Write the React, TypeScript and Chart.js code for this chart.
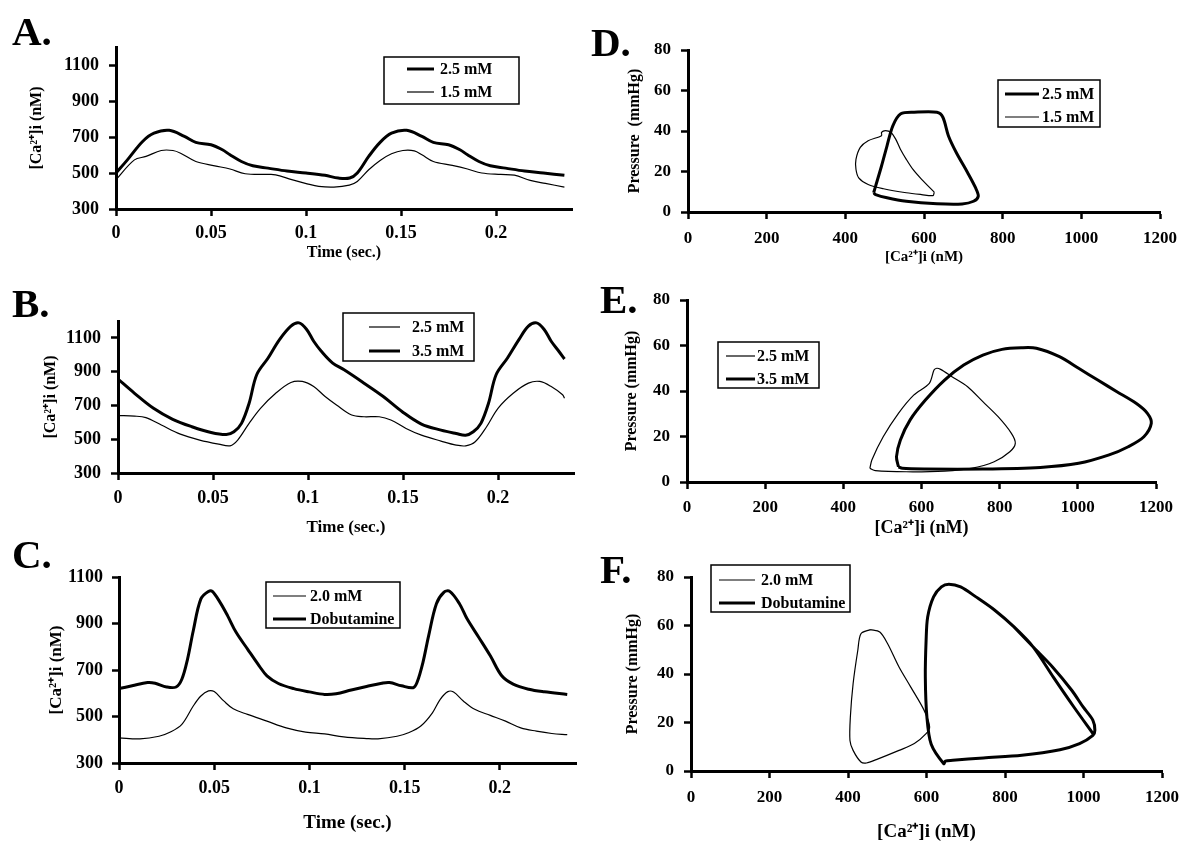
import React, { useEffect, useRef } from 'react';
import { Chart, registerables } from 'chart.js';

Chart.register(...registerables);

const FONT = "'Liberation Serif', 'Times New Roman', serif";

// ---------- tick values / labels ----------
const timeTicks = [0, 0.05, 0.1, 0.15, 0.2];
const timeTickLabels = ['0', '0.05', '0.1', '0.15', '0.2'];
const caTicks = [300, 500, 700, 900, 1100];
const caLoopTicks = [0, 200, 400, 600, 800, 1000, 1200];
const pressureTicks = [0, 20, 40, 60, 80];

// ---------- Panel A ----------
const tA25 = [0, 0.006, 0.014, 0.02, 0.028, 0.036, 0.042, 0.05, 0.056, 0.06, 0.066, 0.072, 0.08, 0.09, 0.1, 0.11, 0.117, 0.123, 0.127, 0.133, 0.139, 0.145, 0.153, 0.161, 0.167, 0.175, 0.181, 0.185, 0.191, 0.197, 0.205, 0.215, 0.225, 0.236];
const caA25 = [500, 573, 675, 721, 737, 703, 670, 657, 629, 601, 564, 540, 527, 511, 500, 487, 472, 472, 500, 592, 670, 721, 737, 703, 670, 657, 629, 601, 564, 540, 527, 511, 500, 487];
const tA15 = [0, 0.0097, 0.0158, 0.0238, 0.03, 0.034, 0.042, 0.052, 0.06, 0.068, 0.08, 0.084, 0.0925, 0.1006, 0.1067, 0.1147, 0.1228, 0.127, 0.133, 0.139, 0.145, 0.151, 0.157, 0.161, 0.167, 0.177, 0.185, 0.1925, 0.2025, 0.2097, 0.218, 0.226, 0.236];
const caA15 = [463, 573, 592, 625, 625, 610, 564, 540, 522, 496, 492, 490, 463, 440, 426, 422, 433, 453, 518, 570, 607, 625, 623, 601, 564, 542, 522, 500, 492, 488, 459, 442, 422];

// ---------- Panel B ----------
const tB25 = [0, 0.0087, 0.0147, 0.0228, 0.0328, 0.043, 0.053, 0.059, 0.063, 0.069, 0.075, 0.083, 0.091, 0.097, 0.103, 0.109, 0.115, 0.123, 0.1295, 0.1375, 0.1436, 0.1516, 0.1597, 0.17, 0.178, 0.183, 0.188, 0.194, 0.2, 0.208, 0.216, 0.222, 0.228, 0.234, 0.235];
const caB25 = [640, 637, 628, 584, 530, 495, 471, 461, 495, 594, 683, 772, 836, 842, 812, 753, 703, 643, 633, 633, 614, 564, 524, 489, 465, 461, 485, 574, 683, 772, 832, 842, 812, 763, 743];
const tB35 = [0, 0.0087, 0.0187, 0.0288, 0.0389, 0.049, 0.057, 0.061, 0.065, 0.069, 0.073, 0.079, 0.085, 0.091, 0.0953, 0.0993, 0.103, 0.107, 0.113, 0.119, 0.1295, 0.1396, 0.1496, 0.1597, 0.17, 0.178, 0.183, 0.187, 0.191, 0.195, 0.199, 0.205, 0.211, 0.216, 0.2203, 0.2243, 0.228, 0.232, 0.235];
const caB35 = [856, 772, 683, 618, 574, 540, 528, 544, 594, 713, 882, 981, 1090, 1170, 1189, 1150, 1080, 1021, 951, 911, 832, 753, 663, 590, 554, 534, 524, 544, 594, 713, 882, 981, 1090, 1170, 1189, 1150, 1080, 1021, 975];

// ---------- Panel C ----------
const tC20 = [0, 0.011, 0.021, 0.027, 0.033, 0.039, 0.043, 0.047, 0.05, 0.055, 0.06, 0.0675, 0.0777, 0.0878, 0.098, 0.108, 0.118, 0.13, 0.136, 0.146, 0.152, 0.1585, 0.1646, 0.1687, 0.1727, 0.1757, 0.1808, 0.1868, 0.195, 0.203, 0.211, 0.2192, 0.2273, 0.2354];
const caC20 = [408, 404, 415, 433, 466, 545, 588, 610, 607, 567, 533, 509, 480, 451, 433, 425, 412, 405, 404, 415, 430, 459, 516, 574, 607, 605, 567, 531, 505, 480, 451, 437, 427, 422];
const tCDob = [0, 0.0069, 0.015, 0.019, 0.025, 0.03, 0.033, 0.036, 0.039, 0.043, 0.047, 0.049, 0.053, 0.057, 0.0615, 0.0675, 0.0736, 0.0777, 0.0837, 0.0918, 0.0999, 0.108, 0.114, 0.122, 0.13, 0.138, 0.142, 0.1484, 0.1545, 0.1565, 0.1596, 0.1626, 0.1667, 0.1707, 0.1737, 0.1788, 0.1828, 0.1889, 0.195, 0.201, 0.207, 0.2152, 0.2233, 0.2354];
const caCDob = [620, 632, 646, 643, 627, 627, 660, 747, 869, 1006, 1038, 1038, 992, 934, 862, 790, 718, 675, 642, 620, 606, 595, 598, 614, 629, 643, 646, 632, 624, 646, 732, 847, 985, 1035, 1038, 985, 920, 841, 761, 675, 639, 617, 606, 595];

// ---------- Panel D ----------
const caD25 = [472, 477, 492, 506, 521, 541, 575, 633, 648, 662, 682, 711, 731, 738, 726, 697, 633, 555, 506, 477, 472];
const pD25 = [9.5, 12.8, 22.7, 32.7, 42.7, 48.5, 49.3, 49.3, 46.8, 37.7, 29.4, 19.4, 12, 7.8, 5.3, 4, 4.1, 5.3, 7, 8.6, 9.5];
const caD15 = [626, 594, 572, 555, 540, 528, 516, 502, 492, 492, 458, 438, 427, 427, 434, 458, 497, 555, 594, 623, 626];
const pD15 = [9.8, 16.1, 21, 26, 31, 36, 39.3, 40.2, 39.3, 37.7, 35.2, 31.9, 26, 21.1, 16.9, 13.6, 11.5, 9.5, 8.6, 8.1, 9.8];

// ---------- Panel E ----------
const caE25 = [468, 473, 502, 541, 580, 620, 632, 639, 649, 678, 718, 757, 796, 830, 840, 826, 786, 727, 659, 561, 482, 468];
const pE25 = [6.0, 9.7, 19.9, 30.2, 38.2, 43.4, 49.2, 50, 49.5, 46.3, 41.9, 35.3, 28.7, 21.4, 17, 13.3, 8.9, 6.0, 4.8, 4.5, 5.0, 6.0];
const caE35 = [541, 536, 546, 571, 610, 659, 708, 757, 806, 855, 894, 953, 1002, 1051, 1100, 1149, 1178, 1188, 1169, 1129, 1080, 1002, 904, 757, 610, 551, 541];
const pE35 = [6.7, 11.1, 18.5, 27.3, 36, 44.8, 51.4, 55.8, 58.3, 59, 58.8, 55.1, 50, 44.8, 39.7, 34.6, 30.2, 25.8, 19.9, 15.5, 11.9, 8.2, 6.4, 5.7, 5.7, 6.0, 6.7];

// ---------- Panel F ----------
const caF20 = [457, 433, 425, 413, 406, 405, 413, 433, 447, 472, 530, 569, 599, 608, 594, 560, 530, 501, 481, 457];
const pF20 = [58.3, 56.6, 49.8, 36, 22.3, 12.6, 8.5, 3.7, 3.3, 4.7, 8.5, 11.3, 15.4, 18.1, 25, 34.6, 42.9, 52.5, 57.3, 58.3];
const caFDob = [1026, 975, 924, 872, 823, 774, 726, 687, 657, 638, 618, 603, 599, 597, 601, 612, 644, 648, 667, 745, 843, 940, 990, 1024, 1029, 1024, 999, 970, 921, 872, 823];
const pFDob = [15, 26.5, 38.5, 51.1, 59.4, 66.3, 71.8, 75.9, 77, 75.9, 71.8, 63.5, 53.9, 38.8, 22.3, 11, 3.0, 4.1, 4.4, 5.4, 6.5, 8.8, 11.3, 14.7, 16.8, 20.9, 26.4, 33.3, 42.9, 51.1, 59.4];

const CA_TITLE = '[Ca\u00B2\u207A]i (nM)';

type Series = { label: string; xs: number[]; ys: number[]; thick: boolean };
type Rect = { x: number; y: number; w: number; h: number };
type Panel = {
  letter: string;
  letterPos: { left: number; top: number };
  canvas: Rect;
  area: { l: number; t: number; r: number; b: number };
  x: { min: number; max: number; ticks: number[]; labels: string[]; title: string; titleSize: number; titleCenter: number; tickSize: number; pad: number };
  y: { min: number; max: number; ticks: number[]; title: string; titleSize: number; titleCenter: number; tickSize: number; pad: number };
  series: Series[];
  legend: { l: number; t: number; r: number; b: number; rows: number[]; x1: number; x2: number; tx: number; size: number };
  tension: number;
};

const panels: Panel[] = [
  {
    letter: 'A.', letterPos: { left: 12, top: 11 },
    canvas: { x: 0, y: 0, w: 600, h: 270 },
    area: { l: 116, t: 47, r: 572, b: 209 },
    x: { min: 0, max: 0.24, ticks: timeTicks, labels: timeTickLabels, title: 'Time (sec.)', titleSize: 16, titleCenter: 253, tickSize: 18, pad: 7 },
    y: { min: 300, max: 1200, ticks: caTicks, title: CA_TITLE, titleSize: 16, titleCenter: 37, tickSize: 18, pad: 10 },
    series: [
      { label: '2.5 mM', xs: tA25, ys: caA25, thick: true },
      { label: '1.5 mM', xs: tA15, ys: caA15, thick: false },
    ],
    legend: { l: 384, t: 57, r: 519, b: 104, rows: [69, 92], x1: 407, x2: 434, tx: 440, size: 16 },
    tension: 0.35,
  },
  {
    letter: 'B.', letterPos: { left: 12, top: 283 },
    canvas: { x: 0, y: 270, w: 600, h: 275 },
    area: { l: 118, t: 321, r: 574, b: 473 },
    x: { min: 0, max: 0.24, ticks: timeTicks, labels: timeTickLabels, title: 'Time (sec.)', titleSize: 17, titleCenter: 528, tickSize: 18, pad: 8 },
    y: { min: 300, max: 1200, ticks: caTicks, title: CA_TITLE, titleSize: 16, titleCenter: 51, tickSize: 18, pad: 10 },
    series: [
      { label: '2.5 mM', xs: tB25, ys: caB25, thick: false },
      { label: '3.5 mM', xs: tB35, ys: caB35, thick: true },
    ],
    legend: { l: 343, t: 313, r: 474, b: 361, rows: [327, 351], x1: 369, x2: 400, tx: 412, size: 16 },
    tension: 0.35,
  },
  {
    letter: 'C.', letterPos: { left: 12, top: 534 },
    canvas: { x: 0, y: 545, w: 600, h: 316 },
    area: { l: 119, t: 577, r: 576, b: 763 },
    x: { min: 0, max: 0.24, ticks: timeTicks, labels: timeTickLabels, title: 'Time (sec.)', titleSize: 19, titleCenter: 823, tickSize: 18, pad: 8 },
    y: { min: 300, max: 1100, ticks: caTicks, title: CA_TITLE, titleSize: 17, titleCenter: 57, tickSize: 18, pad: 9 },
    series: [
      { label: '2.0 mM', xs: tC20, ys: caC20, thick: false },
      { label: 'Dobutamine', xs: tCDob, ys: caCDob, thick: true },
    ],
    legend: { l: 266, t: 582, r: 400, b: 628, rows: [596, 619], x1: 273, x2: 306, tx: 310, size: 16 },
    tension: 0.35,
  },
  {
    letter: 'D.', letterPos: { left: 591, top: 22 },
    canvas: { x: 600, y: 0, w: 600, h: 270 },
    area: { l: 688, t: 50, r: 1160, b: 212 },
    x: { min: 0, max: 1200, ticks: caLoopTicks, labels: caLoopTicks.map(String), title: CA_TITLE, titleSize: 15, titleCenter: 257, tickSize: 17, pad: 9 },
    y: { min: 0, max: 80, ticks: pressureTicks, title: 'Pressure  (mmHg)', titleSize: 16, titleCenter: 635, tickSize: 17, pad: 10 },
    series: [
      { label: '2.5 mM', xs: caD25, ys: pD25, thick: true },
      { label: '1.5 mM', xs: caD15, ys: pD15, thick: false },
    ],
    legend: { l: 998, t: 80, r: 1100, b: 127, rows: [94, 117], x1: 1005, x2: 1039, tx: 1042, size: 16 },
    tension: 0.3,
  },
  {
    letter: 'E.', letterPos: { left: 600, top: 279 },
    canvas: { x: 600, y: 270, w: 600, h: 275 },
    area: { l: 687, t: 300, r: 1156, b: 482 },
    x: { min: 0, max: 1200, ticks: caLoopTicks, labels: caLoopTicks.map(String), title: CA_TITLE, titleSize: 18, titleCenter: 528, tickSize: 17, pad: 8 },
    y: { min: 0, max: 80, ticks: pressureTicks, title: 'Pressure (mmHg)', titleSize: 16, titleCenter: 632, tickSize: 17, pad: 10 },
    series: [
      { label: '2.5 mM', xs: caE25, ys: pE25, thick: false },
      { label: '3.5 mM', xs: caE35, ys: pE35, thick: true },
    ],
    legend: { l: 718, t: 342, r: 819, b: 388, rows: [356, 379], x1: 726, x2: 755, tx: 757, size: 16 },
    tension: 0.3,
  },
  {
    letter: 'F.', letterPos: { left: 600, top: 549 },
    canvas: { x: 600, y: 545, w: 600, h: 316 },
    area: { l: 691, t: 577, r: 1162, b: 771 },
    x: { min: 0, max: 1200, ticks: caLoopTicks, labels: caLoopTicks.map(String), title: CA_TITLE, titleSize: 19, titleCenter: 832, tickSize: 17, pad: 9 },
    y: { min: 0, max: 80, ticks: pressureTicks, title: 'Pressure (mmHg)', titleSize: 16, titleCenter: 633, tickSize: 17, pad: 10 },
    series: [
      { label: '2.0 mM', xs: caF20, ys: pF20, thick: false },
      { label: 'Dobutamine', xs: caFDob, ys: pFDob, thick: true },
    ],
    legend: { l: 711, t: 565, r: 850, b: 612, rows: [580, 603], x1: 719, x2: 755, tx: 761, size: 16 },
    tension: 0.3,
  },
];

function ChartPanel({ cfg }: { cfg: Panel }) {
  const ref = useRef<HTMLCanvasElement>(null);
  useEffect(() => {
    const c = cfg;
    const cv = c.canvas;
    const padTop = c.area.t - cv.y;
    const padRight = cv.x + cv.w - c.area.r;
    const yWidth = c.area.l - cv.x;
    const xHeight = cv.y + cv.h - c.area.b;
    const xLH = c.x.titleSize * 1.2;
    const yLH = c.y.titleSize * 1.2;
    const xTitlePadBottom = cv.y + cv.h - c.x.titleCenter - xLH / 2;
    const yTitlePadTop = c.y.titleCenter - cv.x - yLH / 2;

    const boxLegend = {
      id: 'boxLegend',
      afterDraw(chart: any) {
        const ctx = chart.ctx as CanvasRenderingContext2D;
        const L = c.legend;
        const ox = cv.x;
        const oy = cv.y;
        ctx.save();
        ctx.fillStyle = '#ffffff';
        ctx.fillRect(L.l - ox, L.t - oy, L.r - L.l, L.b - L.t);
        ctx.strokeStyle = '#000';
        ctx.lineWidth = 1.5;
        ctx.strokeRect(L.l - ox, L.t - oy, L.r - L.l, L.b - L.t);
        chart.data.datasets.forEach((ds: any, i: number) => {
          const yy = L.rows[i] - oy;
          ctx.beginPath();
          ctx.lineWidth = ds.borderWidth;
          ctx.moveTo(L.x1 - ox, yy);
          ctx.lineTo(L.x2 - ox, yy);
          ctx.stroke();
          ctx.fillStyle = '#000';
          ctx.font = `bold ${L.size}px ${FONT}`;
          ctx.textBaseline = 'middle';
          ctx.textAlign = 'left';
          ctx.fillText(ds.label, L.tx - ox, yy + 1);
        });
        ctx.restore();
      },
    };

    const gridOpts = {
      display: true,
      drawOnChartArea: false,
      drawTicks: true,
      tickLength: 7,
      tickWidth: 2.5,
      tickColor: '#000',
      color: '#000',
    };
    const borderOpts = { display: true, color: '#000', width: 3 };

    const chart = new Chart(ref.current as HTMLCanvasElement, {
      type: 'line',
      data: {
        datasets: c.series.map((s) => ({
          label: s.label,
          data: s.xs.map((x, i) => ({ x, y: s.ys[i] })),
          borderColor: '#000',
          backgroundColor: '#000',
          borderWidth: s.thick ? 3 : 1.2,
          pointRadius: 0,
          tension: c.tension,
          fill: false,
        })),
      },
      options: {
        responsive: false,
        animation: false,
        events: [],
        layout: { padding: { left: 0, top: padTop, right: padRight, bottom: 0 } },
        plugins: { legend: { display: false }, tooltip: { enabled: false } },
        scales: {
          x: {
            type: 'linear',
            min: c.x.min,
            max: c.x.max,
            afterBuildTicks: (scale: any) => {
              scale.ticks = c.x.ticks.map((v) => ({ value: v }));
            },
            afterFit: (scale: any) => {
              scale.height = xHeight;
            },
            ticks: {
              autoSkip: false,
              maxRotation: 0,
              padding: c.x.pad,
              color: '#000',
              font: { family: FONT, size: c.x.tickSize, weight: 'bold' },
              callback: (_v: any, i: number) => c.x.labels[i],
            },
            grid: gridOpts,
            border: borderOpts,
            title: {
              display: true,
              text: c.x.title,
              color: '#000',
              font: { family: FONT, size: c.x.titleSize, weight: 'bold' },
              padding: { top: 0, bottom: xTitlePadBottom },
            },
          },
          y: {
            type: 'linear',
            min: c.y.min,
            max: c.y.max,
            afterBuildTicks: (scale: any) => {
              scale.ticks = c.y.ticks.map((v) => ({ value: v }));
            },
            afterFit: (scale: any) => {
              scale.width = yWidth;
            },
            ticks: {
              autoSkip: false,
              padding: c.y.pad,
              color: '#000',
              font: { family: FONT, size: c.y.tickSize, weight: 'bold' },
              callback: (v: any) => String(v),
            },
            grid: gridOpts,
            border: borderOpts,
            title: {
              display: true,
              text: c.y.title,
              color: '#000',
              font: { family: FONT, size: c.y.titleSize, weight: 'bold' },
              padding: { top: yTitlePadTop, bottom: 0 },
            },
          },
        },
      } as any,
      plugins: [boxLegend],
    });
    return () => chart.destroy();
  }, [cfg]);
  const cv = cfg.canvas;
  return (
    <canvas
      ref={ref}
      width={cv.w}
      height={cv.h}
      style={{ position: 'absolute', left: cv.x, top: cv.y, width: cv.w, height: cv.h }}
    />
  );
}

export default function App() {
  return (
    <div style={{ position: 'absolute', left: 0, top: 0, width: 1200, height: 861, background: '#fff', overflow: 'hidden' }}>
      {panels.map((p) => (
        <ChartPanel key={p.letter} cfg={p} />
      ))}
      {panels.map((p) => (
        <div
          key={'L' + p.letter}
          style={{
            position: 'absolute',
            left: p.letterPos.left,
            top: p.letterPos.top,
            font: `bold 41px/40px ${FONT}`,
            color: '#000',
          }}
        >
          {p.letter}
        </div>
      ))}
    </div>
  );
}
